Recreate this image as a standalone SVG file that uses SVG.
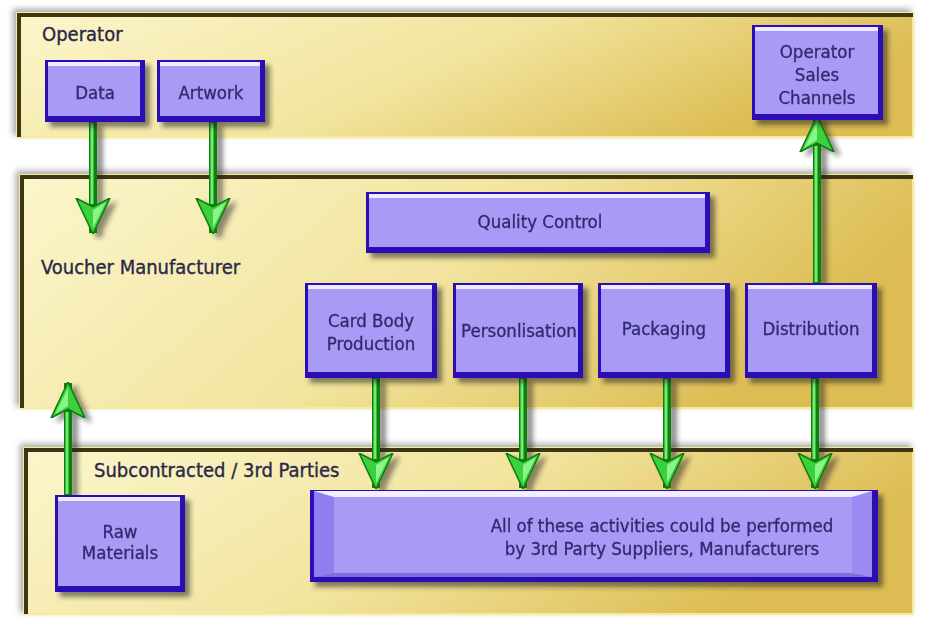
<svg xmlns="http://www.w3.org/2000/svg" width="925" height="618" viewBox="0 0 925 618">
<defs>
<linearGradient id="pg" x1="0" y1="0" x2="1" y2="0.3">
<stop offset="0" stop-color="#fbf6cc"/>
<stop offset="0.55" stop-color="#f2e49e"/>
<stop offset="1" stop-color="#dcbc52"/>
</linearGradient>
<filter id="psh" x="-5%" y="-20%" width="110%" height="140%">
<feDropShadow dx="-3" dy="-3" stdDeviation="3" flood-color="#000" flood-opacity="0.35"/>
</filter>
<filter id="bsh" x="-10%" y="-10%" width="130%" height="140%">
<feDropShadow dx="5" dy="5" stdDeviation="2.5" flood-color="#222" flood-opacity="0.55"/>
</filter>
<filter id="ash" x="-50%" y="-10%" width="250%" height="130%">
<feDropShadow dx="6" dy="4" stdDeviation="2.5" flood-color="#222" flood-opacity="0.5"/>
</filter>
<marker id="ah" markerUnits="userSpaceOnUse" viewBox="0 0 36 36" refX="35" refY="18" markerWidth="36" markerHeight="36" orient="auto">
<path d="M0,1 L36,18 L0,35 L9,18 Z" fill="#3ed03e" stroke="#0c7a0c" stroke-width="1.5" stroke-linejoin="miter"/>
<path d="M4,5 L30,18 L12,18 Z" fill="#8af58a"/>
</marker>
<style>
.panel{fill:url(#pg);stroke:#f6ec90;stroke-width:2}
.pedge{fill:none;stroke:#3e3514;stroke-width:4}
.bo{fill:#2c10b4}
.bi{fill:#a99af6}
.bh{fill:#efeaff}
.lbl{font-family:"DejaVu Sans Condensed","DejaVu Sans",sans-serif;font-size:20px;fill:#2a2848;stroke:#2a2848;stroke-width:0.35}
.bt{font-family:"DejaVu Sans Condensed","DejaVu Sans",sans-serif;font-size:18.5px;fill:#2e2a6e;stroke:#2e2a6e;stroke-width:0.3;text-anchor:middle}
.sh{fill:none;stroke:#0f7f0f;stroke-width:8}
.hl{fill:none;stroke:#70ee70;stroke-width:3}
</style>
</defs>
<rect width="925" height="618" fill="#ffffff"/>

<g id="panel-operator">
<rect class="panel" x="17" y="13" width="896" height="124" filter="url(#psh)"/>
<path class="pedge" d="M19,137 V15 H913"/>
<text class="lbl" x="42" y="41">Operator</text>
</g>
<g id="panel-voucher">
<rect class="panel" x="20" y="175" width="893" height="233" filter="url(#psh)"/>
<path class="pedge" d="M22,408 V177 H913"/>
<text class="lbl" x="41" y="274">Voucher Manufacturer</text>
</g>
<g id="panel-sub">
<rect class="panel" x="24" y="448" width="889" height="166" filter="url(#psh)"/>
<path class="pedge" d="M26,614 V450 H913"/>
<text class="lbl" x="94" y="477" font-size="21.5px">Subcontracted / 3rd Parties</text>
</g>

<g id="connectors" filter="url(#ash)">
<path class="sh" d="M93,122 V233" marker-end="url(#ah)"/>
<path class="hl" d="M92,123 V204"/>
<path class="sh" d="M213,122 V233" marker-end="url(#ah)"/>
<path class="hl" d="M212,123 V204"/>
<path class="sh" d="M817,283 V117" marker-end="url(#ah)"/>
<path class="hl" d="M816,282 V146"/>
<path class="sh" d="M68,495 V383" marker-end="url(#ah)"/>
<path class="hl" d="M67,494 V412"/>
<path class="sh" d="M376,378 V488" marker-end="url(#ah)"/>
<path class="hl" d="M375,379 V459"/>
<path class="sh" d="M523,378 V488" marker-end="url(#ah)"/>
<path class="hl" d="M522,379 V459"/>
<path class="sh" d="M667,378 V488" marker-end="url(#ah)"/>
<path class="hl" d="M666,379 V459"/>
<path class="sh" d="M815,378 V488" marker-end="url(#ah)"/>
<path class="hl" d="M814,379 V459"/>
</g>

<g id="data" filter="url(#bsh)">
<rect class="bo" x="45" y="60" width="100" height="62"/>
<rect class="bi" x="48" y="62" width="92" height="54"/>
<rect class="bh" x="48" y="62" width="92" height="4"/>
<text class="bt" x="95" y="99">Data</text>
</g>
<g id="artwork" filter="url(#bsh)">
<rect class="bo" x="157" y="60" width="108" height="62"/>
<rect class="bi" x="160" y="62" width="100" height="54"/>
<rect class="bh" x="160" y="62" width="100" height="4"/>
<text class="bt" x="211" y="99">Artwork</text>
</g>
<g id="sales" filter="url(#bsh)">
<rect class="bo" x="752" y="25" width="131" height="95"/>
<rect class="bi" x="755" y="27" width="123" height="87"/>
<rect class="bh" x="755" y="27" width="123" height="4"/>
<text class="bt" x="817" y="58">Operator</text>
<text class="bt" x="817" y="81">Sales</text>
<text class="bt" x="817" y="104">Channels</text>
</g>
<g id="quality" filter="url(#bsh)">
<rect class="bo" x="366" y="192" width="344" height="61"/>
<rect class="bi" x="369" y="194" width="336" height="53"/>
<rect class="bh" x="369" y="194" width="336" height="4"/>
<text class="bt" x="540" y="228">Quality Control</text>
</g>
<g id="cardbody" filter="url(#bsh)">
<rect class="bo" x="305" y="283" width="132" height="95"/>
<rect class="bi" x="308" y="285" width="124" height="87"/>
<rect class="bh" x="308" y="285" width="124" height="4"/>
<text class="bt" x="371" y="327">Card Body</text>
<text class="bt" x="371" y="350">Production</text>
</g>
<g id="personlisation" filter="url(#bsh)">
<rect class="bo" x="453" y="283" width="130" height="95"/>
<rect class="bi" x="456" y="285" width="122" height="87"/>
<rect class="bh" x="456" y="285" width="122" height="4"/>
<text class="bt" x="519" y="337">Personlisation</text>
</g>
<g id="packaging" filter="url(#bsh)">
<rect class="bo" x="598" y="283" width="132" height="95"/>
<rect class="bi" x="601" y="285" width="124" height="87"/>
<rect class="bh" x="601" y="285" width="124" height="4"/>
<text class="bt" x="664" y="335">Packaging</text>
</g>
<g id="distribution" filter="url(#bsh)">
<rect class="bo" x="745" y="283" width="132" height="95"/>
<rect class="bi" x="748" y="285" width="124" height="87"/>
<rect class="bh" x="748" y="285" width="124" height="4"/>
<text class="bt" x="811" y="335">Distribution</text>
</g>
<g id="rawmaterials" filter="url(#bsh)">
<rect class="bo" x="55" y="495" width="130" height="97"/>
<rect class="bi" x="58" y="497" width="122" height="89"/>
<rect class="bh" x="58" y="497" width="122" height="4"/>
<text class="bt" x="120" y="538">Raw</text>
<text class="bt" x="120" y="559">Materials</text>
</g>
<g id="thirdparty" filter="url(#bsh)">
<rect class="bo" x="310" y="490" width="568" height="92"/>
<rect class="bi" x="314" y="491" width="558" height="86"/>
<polygon points="314,491 334,497 334,573 314,577" fill="#8e7ef0"/>
<polygon points="872,491 852,497 852,573 872,577" fill="#9a8cf2"/>
<polygon points="314,491 872,491 852,497 334,497" fill="#f2eeff"/>
<polygon points="314,577 872,577 852,573 334,573" fill="#7e6ee0"/>
<text class="bt" x="662" y="532">All of these activities could be performed</text>
<text class="bt" x="662" y="555">by 3rd Party Suppliers, Manufacturers</text>
</g>
</svg>
